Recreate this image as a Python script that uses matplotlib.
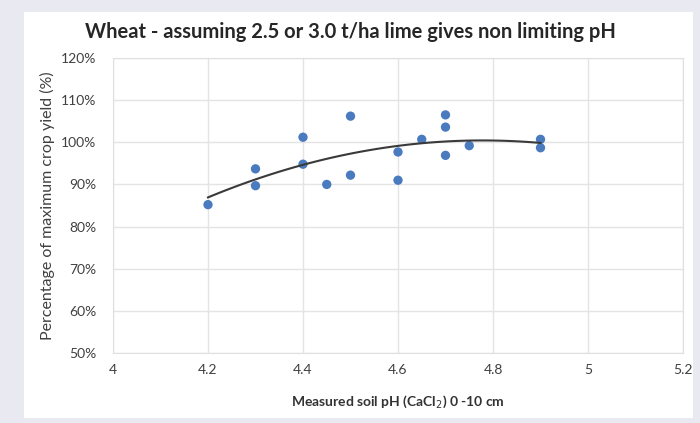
import numpy as np
import matplotlib.pyplot as plt
from matplotlib.patches import Rectangle
from matplotlib.ticker import FuncFormatter

# measured soil pH vs % of max yield
ph = [4.2, 4.3, 4.3, 4.4, 4.4, 4.45, 4.5, 4.5, 4.6, 4.6, 4.65, 4.7, 4.7, 4.7, 4.75, 4.9, 4.9]
yld = [85.2, 93.7, 89.7, 101.2, 94.8, 90.0, 106.2, 92.2, 97.7, 91.0, 100.7, 106.5, 103.6, 96.9, 99.2, 100.7, 98.7]

x_ticks = [4, 4.2, 4.4, 4.6, 4.8, 5, 5.2]
x_labels = ['4', '4.2', '4.4', '4.6', '4.8', '5', '5.2']
y_ticks = [50, 60, 70, 80, 90, 100, 110, 120]

plt.rcParams['font.family'] = ['Lato', 'DejaVu Sans']

fig = plt.figure(figsize=(7, 4.23), dpi=100)
fig.patch.set_facecolor('#e9e9f2')
fig.patches.append(Rectangle((24 / 700, 1 - 418 / 423), (693 - 24) / 700, (418 - 12) / 423,
                             transform=fig.transFigure, facecolor='white', edgecolor='none', zorder=-10))

ax = fig.add_axes([113 / 700, 1 - 353 / 423, (683 - 113) / 700, (353 - 58) / 423])
ax.set_zorder(1)
ax.set_facecolor('white')

ax.scatter(ph, yld, s=45, color='#4a7bbf', zorder=3, edgecolors='none')

# 2nd order polynomial trendline (like Excel)
coef = np.polyfit(ph, yld, 2)
xs = np.linspace(min(ph), max(ph), 100)
ax.plot(xs, np.polyval(coef, xs), color='#3a3a3a', lw=1.5, zorder=4)

ax.set_xlim(4, 5.2)
ax.set_ylim(50, 120)
ax.set_xticks(x_ticks)
ax.set_xticklabels(x_labels)
ax.set_yticks(y_ticks)
ax.yaxis.set_major_formatter(FuncFormatter(lambda v, p: f'{v:.0f}%'))
ax.grid(True, color='#e4e4e4', lw=1)
ax.set_axisbelow(True)
for s in ax.spines.values():
    s.set_color('#e0e0e0')
ax.tick_params(length=0, labelsize=10, colors='#404040')
ax.tick_params(axis='y', pad=12)
ax.tick_params(axis='x', pad=8)

ax.set_xlabel('Measured soil pH (CaCl$_2$) 0 -10 cm', fontsize=10, fontweight='bold', color='#333333', labelpad=12)
ax.set_ylabel('Percentage of maximum crop yield (%)', fontsize=11.5, color='#404040', labelpad=4)
fig.text(0.5, 1 - 32 / 423, 'Wheat - assuming 2.5 or 3.0 t/ha lime gives non limiting pH',
         ha='center', va='center', fontsize=14.5, fontweight='bold', color='#262626')

fig.savefig('out.png', dpi=100, facecolor=fig.get_facecolor())
